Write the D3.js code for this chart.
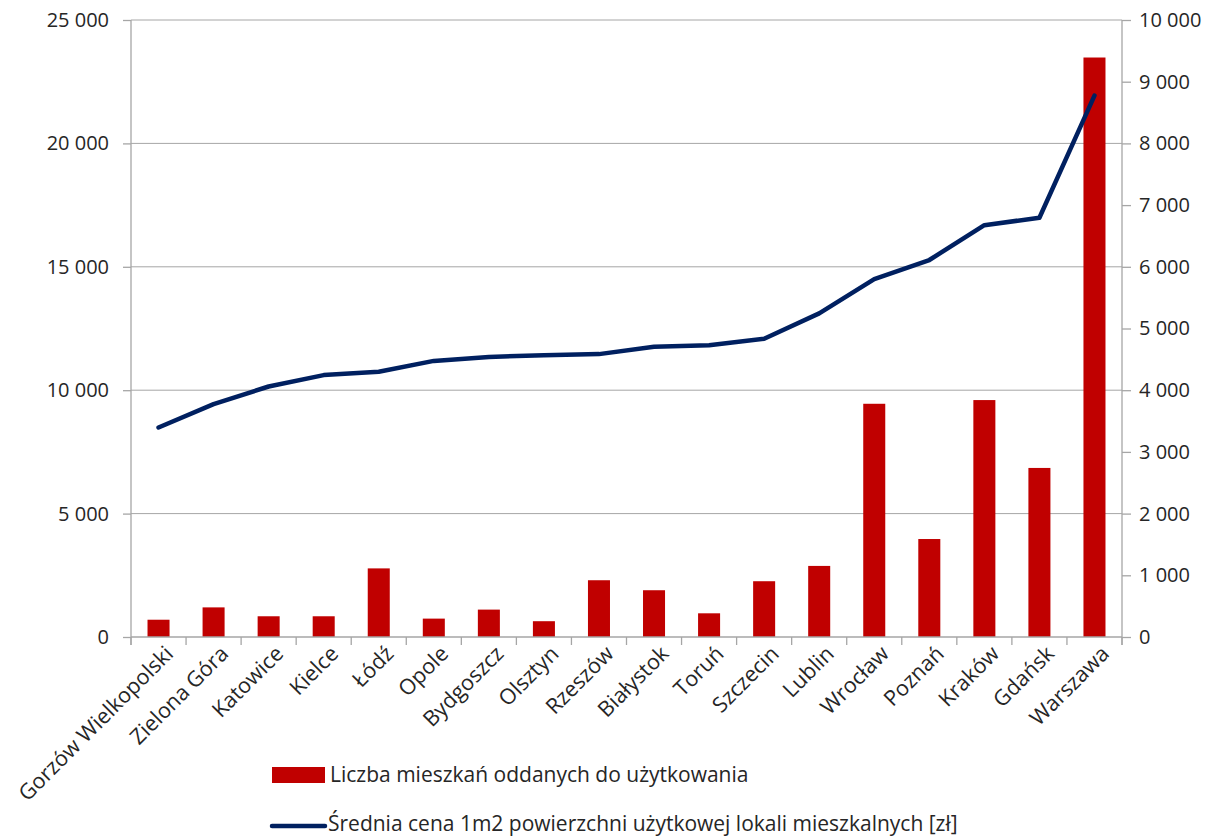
<!DOCTYPE html>
<html>
<head>
<meta charset="utf-8">
<script src="https://cdn.jsdelivr.net/npm/d3@7"></script>
<style>
  body { margin: 0; background: #fff; }
  svg text { font-family: "Open Sans", "Noto Sans", sans-serif; fill: #262626; }
</style>
</head>
<body>
<div id="chart"></div>
<script>
// cities, sorted by price
const cities = ["Gorzów Wielkopolski", "Zielona Góra", "Katowice", "Kielce", "Łódź", "Opole",
  "Bydgoszcz", "Olsztyn", "Rzeszów", "Białystok", "Toruń", "Szczecin", "Lublin",
  "Wrocław", "Poznań", "Kraków", "Gdańsk", "Warszawa"]

// number of flats completed (left axis)
const flats = [700, 1200, 840, 840, 2780, 745, 1110, 640, 2300, 1895, 960, 2260, 2880,
  9450, 3970, 9600, 6850, 23480]

// average price per m2 in zł (right axis)
const prices = [3395, 3775, 4060, 4245, 4300, 4475, 4540, 4565, 4585, 4705, 4730, 4835, 5245,
  5800, 6110, 6675, 6795, 8775]

const leftTicks = [0, 5000, 10000, 15000, 20000, 25000]
const rightTicks = [0, 1000, 2000, 3000, 4000, 5000, 6000, 7000, 8000, 9000, 10000]

const barLabel = "Liczba mieszkań oddanych do użytkowania"
const lineLabel = "Średnia cena 1m2 powierzchni użytkowej lokali mieszkalnych [zł]"

const W = 1230, H = 840
const margin = { top: 20, right: 108, bottom: 203, left: 131 }
const width = W - margin.left - margin.right,
  height = H - margin.top - margin.bottom
const FS = "20px", FS2 = "21.5px", FS3 = "21px"

const locale = d3.formatLocale({ decimal: ",", thousands: "\u00a0", grouping: [3], currency: ["", ""] })
const fmt = locale.format(",")

const svg = d3.select("#chart").append("svg")
  .attr("width", W).attr("height", H)

const g = svg.append("g")
  .attr("transform", "translate(" + margin.left + "," + margin.top + ")")

const x = d3.scaleBand().domain(cities).range([0, width]).paddingInner(0.6).paddingOuter(0.3)
const xc = d3.scaleBand().domain(cities).range([0, width])
const yL = d3.scaleLinear().domain([0, 25000]).range([height, 0])
const yR = d3.scaleLinear().domain([0, 10000]).range([height, 0])

const gridColor = "#a6a6a6"

// gridlines
g.append("g").selectAll("line").data(leftTicks.slice(1)).enter().append("line")
  .attr("x1", 0).attr("x2", width)
  .attr("y1", d => yL(d)).attr("y2", d => yL(d))
  .attr("stroke", gridColor).attr("stroke-width", 1)

// bars
g.append("g").selectAll("rect").data(cities).enter().append("rect")
  .attr("x", d => x(d))
  .attr("width", x.bandwidth())
  .attr("y", (d, i) => yL(flats[i]))
  .attr("height", (d, i) => height - yL(flats[i]))
  .attr("fill", "#c00000")

// left axis
const axL = g.append("g").call(d3.axisLeft(yL).tickValues(leftTicks).tickFormat(fmt).tickSize(8).tickPadding(14))
// right axis
const axR = g.append("g").attr("transform", "translate(" + width + ",0)")
  .call(d3.axisRight(yR).tickValues(rightTicks).tickFormat(fmt).tickSize(9).tickPadding(8))
// bottom axis
const axB = g.append("g").attr("transform", "translate(0," + height + ")")
  .call(d3.axisBottom(xc).tickSize(0).tickPadding(10))

axB.selectAll(".tick").append("line")
  .attr("x1", -xc.bandwidth() / 2).attr("x2", -xc.bandwidth() / 2)
  .attr("y1", 0).attr("y2", 8)
axB.append("line").attr("x1", width).attr("x2", width).attr("y1", 0).attr("y2", 8)

;[axL, axR, axB].forEach(ax => {
  ax.select(".domain").attr("stroke", gridColor).attr("stroke-width", 1.3)
  ax.selectAll("line").attr("stroke", gridColor).attr("stroke-width", 1.3)
  ax.selectAll("text").style("font-size", FS).attr("fill", "#262626")
})
axL.select(".domain").attr("d", "M0," + yL(25000) + "V" + (height + 8))
axR.select(".domain").attr("d", "M0," + yR(10000) + "V" + (height + 8))
axB.select(".domain").attr("d", "M0,0H" + width)

axB.selectAll(".tick text")
  .style("font-size", FS2)
  .attr("text-anchor", "end")
  .attr("dy", 0)
  .attr("transform", "translate(9,11) rotate(-45)")

// line
const line = d3.line()
  .x((d, i) => xc(cities[i]) + xc.bandwidth() / 2)
  .y(d => yR(d))

g.append("path").datum(prices)
  .attr("d", line)
  .attr("fill", "none")
  .attr("stroke", "#002060")
  .attr("stroke-width", 4.5)
  .attr("stroke-linejoin", "round")
  .attr("stroke-linecap", "round")

// legend
const lg = svg.append("g")
lg.append("rect").attr("x", 272).attr("y", 767).attr("width", 53).attr("height", 16).attr("fill", "#c00000")
lg.append("text").attr("x", 330).attr("y", 775).attr("dy", "0.35em").style("font-size", FS3).text(barLabel)
lg.append("line").attr("x1", 272).attr("x2", 325).attr("y1", 826).attr("y2", 826)
  .attr("stroke", "#002060").attr("stroke-width", 4.5).attr("stroke-linecap", "round")
lg.append("text").attr("x", 328).attr("y", 824).attr("dy", "0.35em").style("font-size", FS3).text(lineLabel)
</script>
</body>
</html>
